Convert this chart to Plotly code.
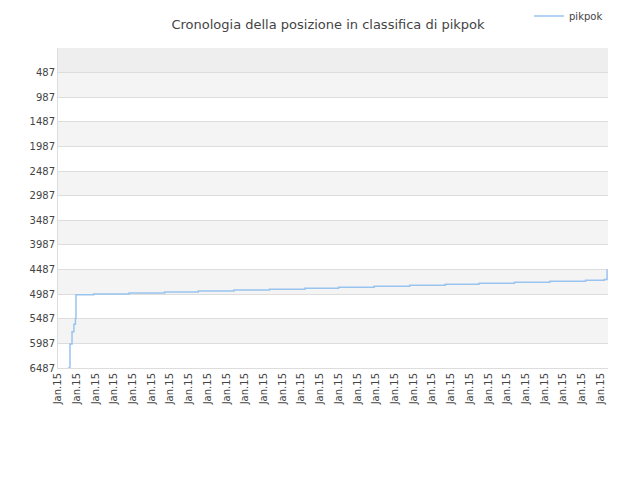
import plotly.graph_objects as go

# position history (x in tick units, rank values)
x_vals = [0.53, 0.64, 0.75, 0.85, 0.93, 0.96, 1.0, 1.9, 3.8, 5.7, 7.5, 9.4, 11.3, 13.2, 15.0, 16.9,
          18.8, 20.7, 22.5, 24.4, 26.3, 28.2, 29.2, 29.35]
ranks = [6487, 6000, 5750, 5600, 5480, 5000, 5000, 4985, 4965, 4945, 4925, 4905, 4885, 4865, 4845, 4825,
         4805, 4785, 4765, 4745, 4725, 4705, 4690, 4480]
tick_pos = list(range(30))
tick_text = ["Jan.15"] * 30
y_ticks = [487, 987, 1487, 1987, 2487, 2987, 3487, 3987, 4487, 4987, 5487, 5987, 6487]

fig = go.Figure()
fig.add_trace(go.Scatter(x=x_vals, y=ranks, mode="lines", line_shape="hv", name="pikpok",
                         line=dict(color="#99c4f0", width=1.5)))

# background bands
fig.add_shape(type="rect", xref="paper", yref="y", x0=0, x1=1, y0=-13, y1=487,
              fillcolor="#eeeeee", line_width=0, layer="below")
for i in range(0, 12, 2):
    fig.add_shape(type="rect", xref="paper", yref="y", x0=0, x1=1, y0=y_ticks[i], y1=y_ticks[i + 1],
                  fillcolor="#f4f4f4", line_width=0, layer="below")

fig.update_layout(
    width=640, height=480,
    title=dict(text="Cronologia della posizione in classifica di pikpok", x=0.5, xanchor="center",
               y=0.975, font=dict(size=13, color="#444"), automargin=False),
    font=dict(family="DejaVu Sans", size=10, color="#444"),
    plot_bgcolor="white", paper_bgcolor="white",
    margin=dict(l=50, r=40, t=40, b=120, autoexpand=False),
    showlegend=True,
    legend=dict(x=1.0, y=1.1, xanchor="right", yanchor="middle", bgcolor="rgba(0,0,0,0)"),
    xaxis=dict(range=[0, 29.4], tickvals=tick_pos, ticktext=tick_text, tickangle=-90, automargin=False,
               showgrid=False, showline=True, linecolor="#ddd", ticks="", zeroline=False),
    yaxis=dict(range=[6487, -13], tickvals=y_ticks, showgrid=True, gridcolor="#dddddd", automargin=False,
               showline=True, linecolor="#ddd", zeroline=False),
)
fig.write_html("out.html")
